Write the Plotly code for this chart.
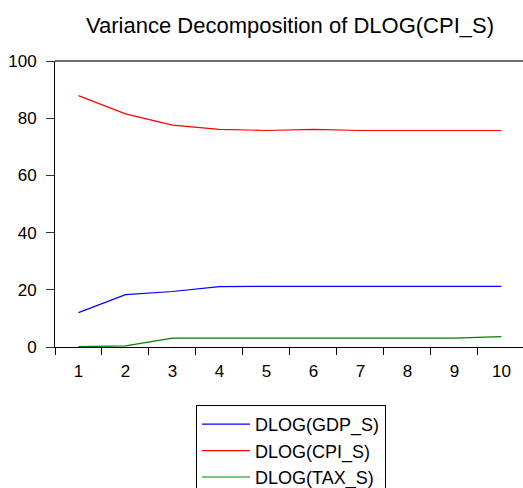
import plotly.graph_objects as go

periods = [1, 2, 3, 4, 5, 6, 7, 8, 9, 10]
gdp_s = [12.0, 18.3, 19.4, 21.1, 21.2, 21.2, 21.2, 21.2, 21.2, 21.2]
cpi_s = [87.9, 81.5, 77.6, 76.1, 75.7, 76.1, 75.7, 75.7, 75.7, 75.7]
tax_s = [0.1, 0.4, 3.1, 3.1, 3.1, 3.1, 3.1, 3.1, 3.1, 3.6]
series_names = ["DLOG(GDP_S)", "DLOG(CPI_S)", "DLOG(TAX_S)"]
series_colors = ["#0000FF", "#FF0000", "#008000"]
title_text = "Variance Decomposition of DLOG(CPI_S)"
y_ticks = [0, 20, 40, 60, 80, 100]

FONT = "Liberation Sans, Arial, sans-serif"

fig = go.Figure()
for name, vals, col in zip(series_names, [gdp_s, cpi_s, tax_s], series_colors):
    fig.add_trace(go.Scatter(x=periods, y=vals, mode="lines", name=name,
                             line=dict(color=col, width=1.2)))

half_ticks = [p - 0.5 for p in periods]

fig.update_layout(
    width=523, height=488,
    margin=dict(l=55, r=0, t=61, b=141, autoexpand=False),
    paper_bgcolor="white", plot_bgcolor="white",
    font=dict(family=FONT, color="black", size=17),
    title=dict(text=title_text, x=290 / 523, xanchor="center",
               y=1 - 25 / 488, yanchor="middle",
               font=dict(family=FONT, size=22, color="black")),
    xaxis=dict(range=[0.5, 10.46], tickmode="array", tickvals=periods,
               ticktext=[str(p) for p in periods], ticks="",
               showline=True, linecolor="black", linewidth=1,
               showgrid=False, zeroline=False, ticklabelstandoff=9,
               tickfont=dict(size=17), tickangle=0,
               minor=dict(tickmode="array", tickvals=half_ticks, ticks="outside",
                          ticklen=7, tickcolor="black", tickwidth=1, showgrid=False)),
    yaxis=dict(range=[0, 100], tickmode="array", tickvals=y_ticks,
               ticks="outside", ticklen=8, tickcolor="#333333", tickwidth=1,
               showline=True, linecolor="black", linewidth=1,
               showgrid=False, zeroline=False, ticklabelstandoff=6,
               tickfont=dict(size=17)),
    legend=dict(xref="container", yref="container",
                x=196 / 523, xanchor="left", y=1 - 405 / 488, yanchor="top",
                bordercolor="black", borderwidth=1, bgcolor="white",
                font=dict(family=FONT, size=18, color="black"),
                tracegroupgap=0, itemwidth=48),
    showlegend=True,
    shapes=[dict(type="line", xref="paper", yref="paper", x0=0, x1=1, y0=1, y1=1,
                 line=dict(color="#707070", width=2))],
)

fig.write_html("out.html")
